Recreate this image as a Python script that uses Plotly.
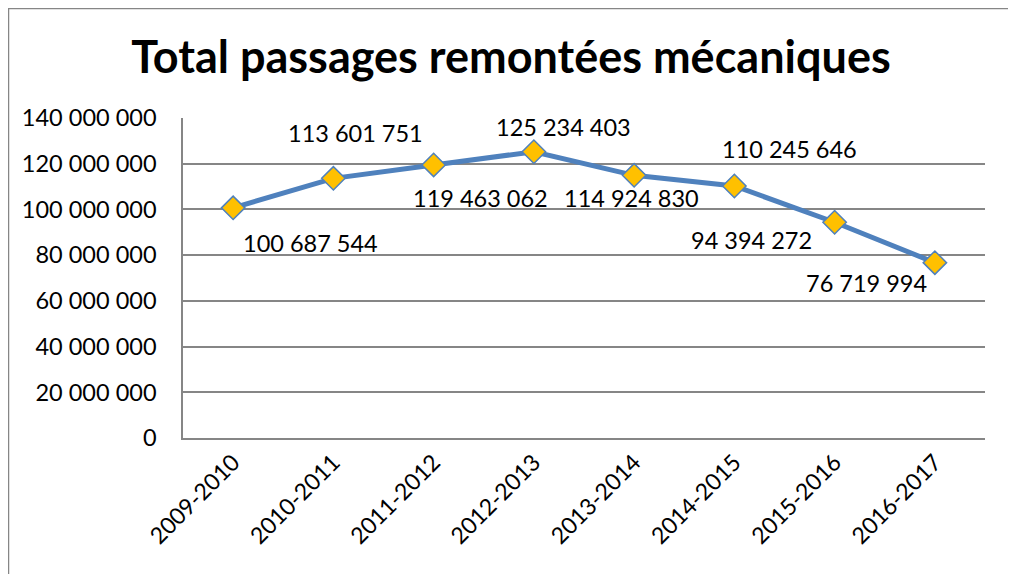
import plotly.graph_objects as go

seasons = ["2009-2010", "2010-2011", "2011-2012", "2012-2013",
           "2013-2014", "2014-2015", "2015-2016", "2016-2017"]
passages = [100687544, 113601751, 119463062, 125234403,
            114924830, 110245646, 94394272, 76719994]
y_ticks = [0, 20000000, 40000000, 60000000, 80000000, 100000000, 120000000, 140000000]
y_tick_labels = ["0", "20 000 000", "40 000 000", "60 000 000", "80 000 000",
                 "100 000 000", "120 000 000", "140 000 000"]

# label offsets (pixels) relative to each point, as placed in the original
label_dx = [77, 22, 47, 30, -3, 55, -83, -68]
label_dy = [-35, 45, -33, 25, -23, 37, -18, -20]

FONT = "Lato"

def fmt(v):
    return f"{v:,}".replace(",", " ")

fig = go.Figure()
fig.add_trace(go.Scatter(
    x=seasons, y=passages, mode="lines+markers",
    line=dict(color="#4F81BD", width=5),
    marker=dict(symbol="diamond", size=18, color="#FFC000",
                line=dict(color="#4F81BD", width=1.5)),
    hoverinfo="x+y", showlegend=False,
))

for s, v, dx, dy in zip(seasons, passages, label_dx, label_dy):
    fig.add_annotation(x=s, y=v, text=fmt(v), showarrow=False,
                       xshift=dx, yshift=dy,
                       font=dict(family=FONT, size=23.5, color="#000000"))

# page has an 8px body margin: compensate so the plot area lands at
# x 183..985, y 118..438 in the window
W, H = 1008, 566
L, T = 175, 110
PW, PH = 802, 320

fig.update_layout(
    width=W, height=H,
    margin=dict(l=L, r=W - L - PW, t=T, b=H - T - PH),
    paper_bgcolor="white", plot_bgcolor="white",
    title=dict(text="<b>Total passages remontées mécaniques</b>",
               x=(511 - 8) / W, xanchor="center",
               y=1 - (57 - 8) / H, yanchor="middle", yref="container",
               font=dict(family=FONT, size=45, color="#000000")),
    font=dict(family=FONT, color="#000000"),
    xaxis=dict(type="category", range=[-0.5, 7.5], tickangle=-45,
               showgrid=False, showline=True, linecolor="#868686", linewidth=1.5,
               ticks="", tickfont=dict(family=FONT, size=23, color="#000000")),
    yaxis=dict(range=[0, 140000000], tickvals=y_ticks, ticktext=y_tick_labels,
               showgrid=True, gridcolor="#868686", gridwidth=1.5,
               showline=True, linecolor="#868686", linewidth=1.5,
               zeroline=False, ticks="", ticklabelstandoff=20,
               tickfont=dict(family=FONT, size=23.5, color="#000000")),
    shapes=[dict(type="rect", xref="paper", yref="paper",
                 x0=(0.5 - L) / PW, x1=(1004 - L) / PW,
                 y0=(T + PH - H - 20) / PH, y1=(T + PH - 0.5) / PH,
                 line=dict(color="#868686", width=1.5), fillcolor="rgba(0,0,0,0)",
                 layer="below")],
)

fig.write_html("out.html")
